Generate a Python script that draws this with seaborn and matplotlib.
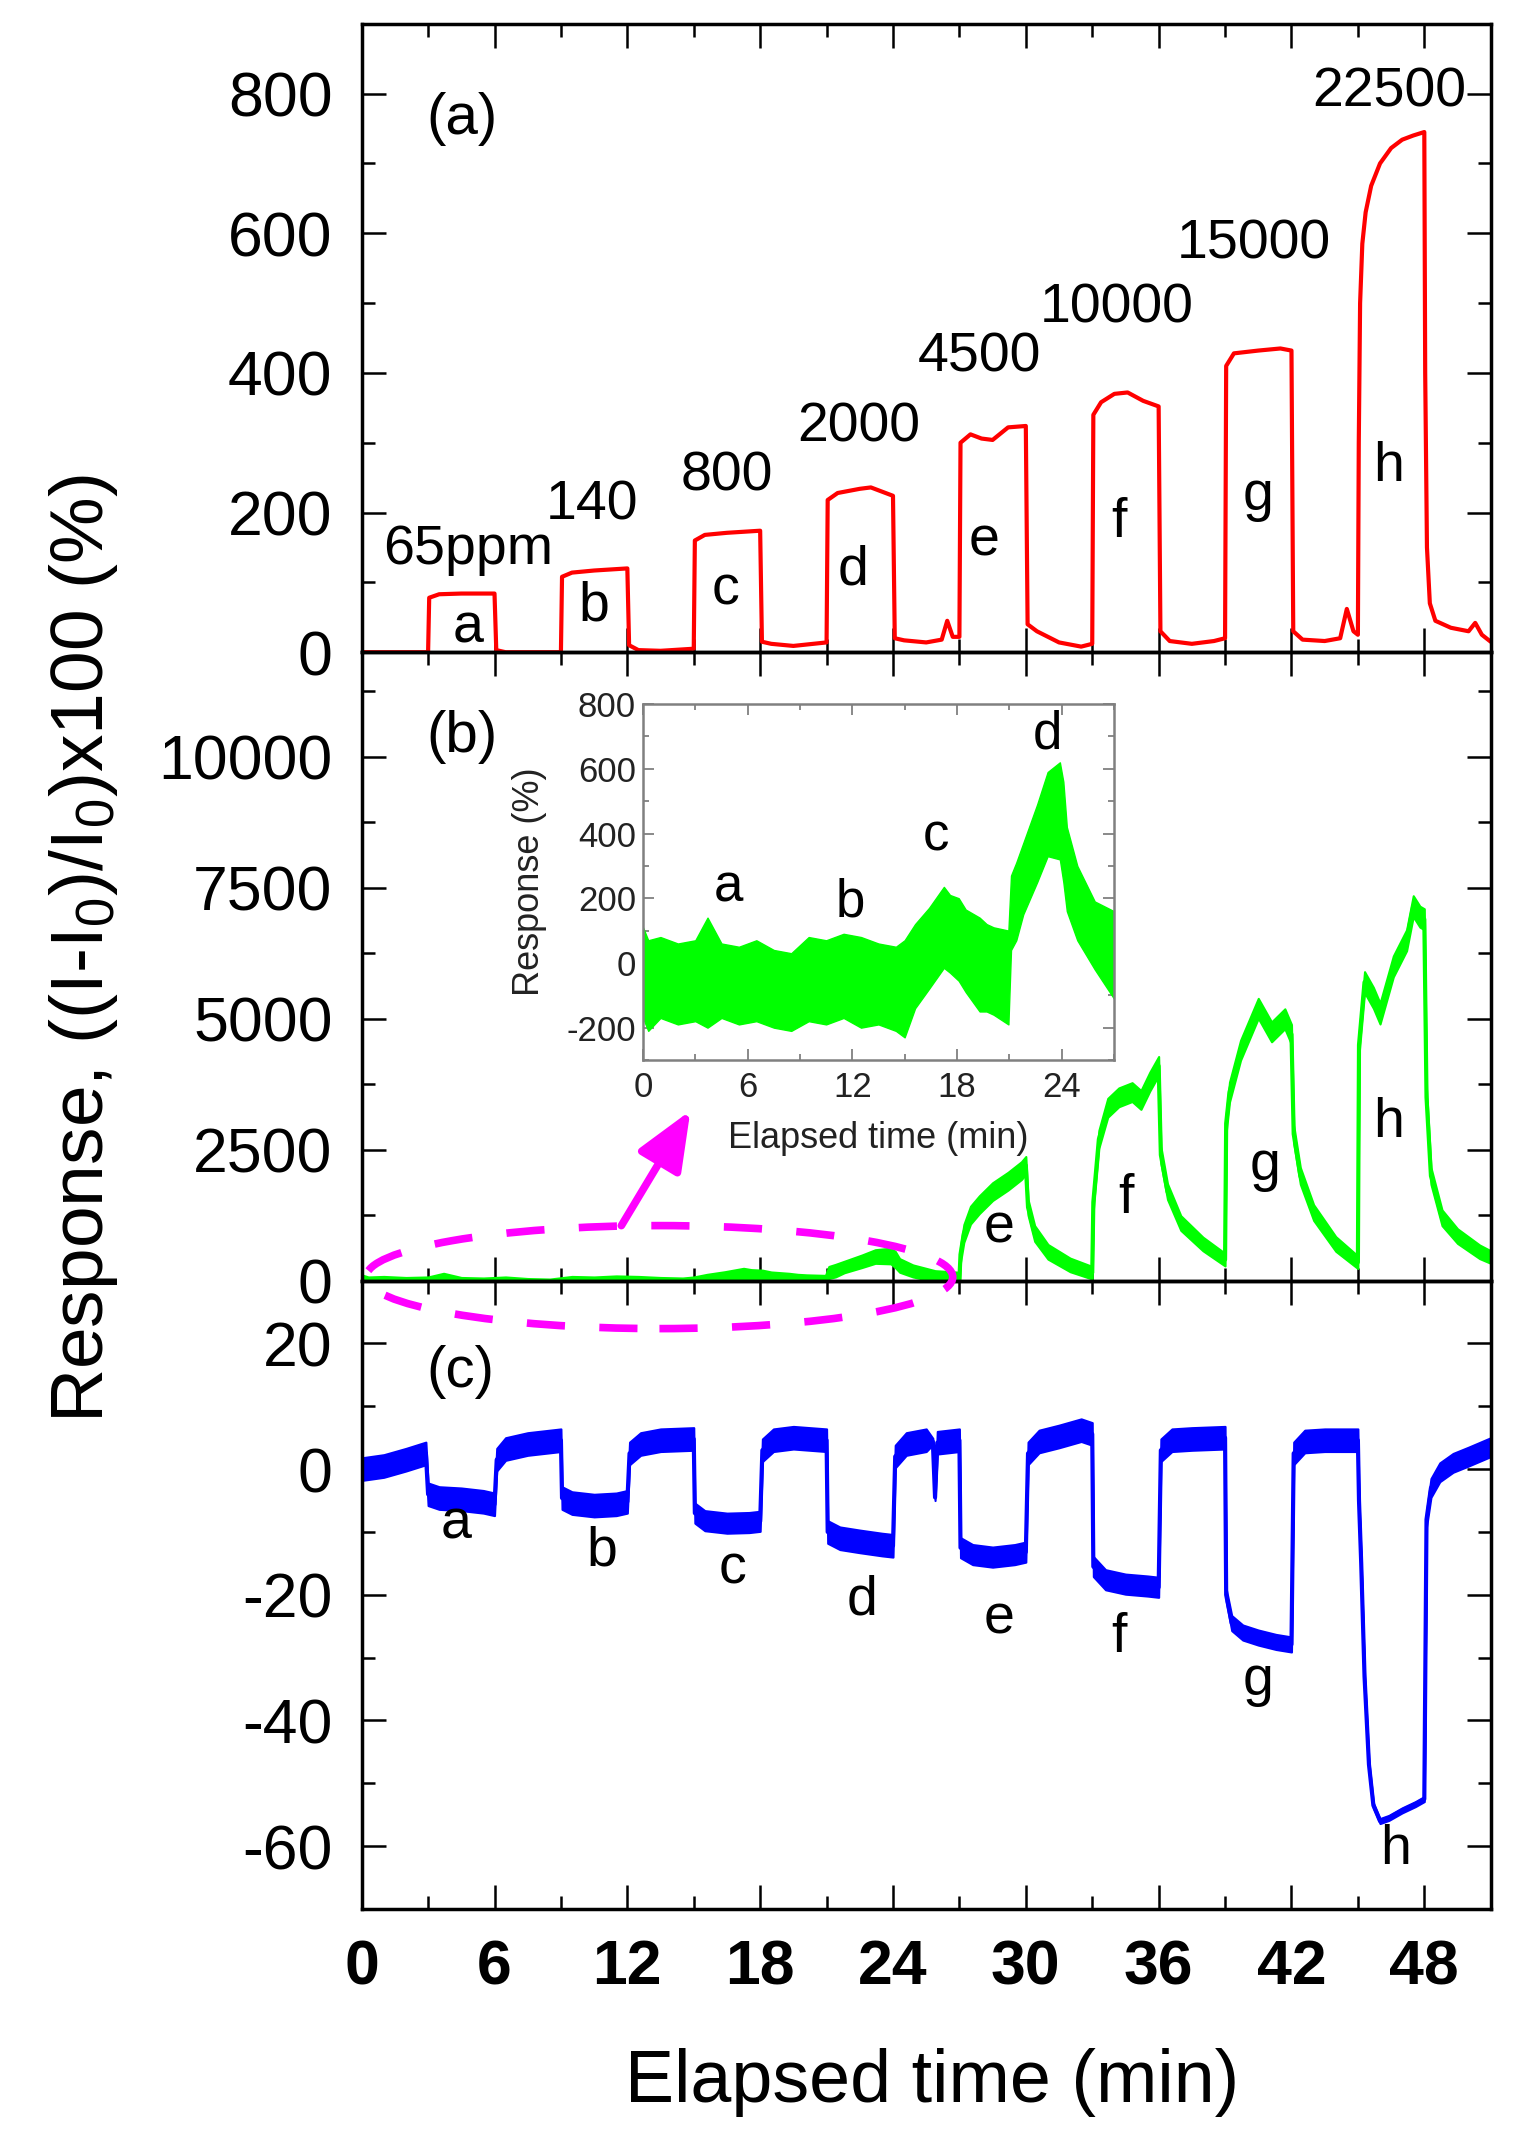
import numpy as np
import matplotlib
matplotlib.use('Agg')
import matplotlib.pyplot as plt
from matplotlib.patches import Ellipse
from matplotlib.ticker import MultipleLocator
import seaborn as sns

sns.set_theme(style='ticks', rc={'axes.edgecolor': 'black', 'text.color': 'black',
                                 'xtick.color': 'black', 'ytick.color': 'black',
                                 'axes.labelcolor': 'black'})
plt.rcParams['font.family'] = ['Liberation Sans', 'DejaVu Sans']
plt.rcParams['mathtext.fontset'] = 'custom'
plt.rcParams['mathtext.rm'] = 'Liberation Sans'
plt.rcParams['mathtext.it'] = 'Liberation Sans'
plt.rcParams['axes.unicode_minus'] = False

# ---------------- DATA ----------------
# (a) red response, %
red_t = [0.0, 3.0,
         3.05, 3.5, 4.5, 5.5, 6.0,
         6.08, 6.5, 8.0, 9.0,
         9.05, 9.5, 10.5, 11.5, 12.0,
         12.08, 12.5, 13.5, 15.0,
         15.05, 15.5, 16.5, 17.5, 18.0,
         18.08, 18.5, 19.5, 21.0,
         21.05, 21.5, 22.5, 23.0, 24.0,
         24.08, 24.5, 25.5, 26.2, 26.45, 26.7, 27.0,
         27.05, 27.5, 28.0, 28.5, 29.2, 30.0,
         30.08, 30.5, 31.5, 32.5, 33.0,
         33.05, 33.4, 34.0, 34.6, 35.3, 36.0,
         36.08, 36.5, 37.5, 38.5, 39.0,
         39.05, 39.4, 40.5, 41.5, 42.0,
         42.08, 42.5, 43.5, 44.2, 44.5, 44.8, 45.0,
         45.04, 45.1, 45.2, 45.35, 45.6, 46.0, 46.5, 47.0, 47.5, 48.0,
         48.04, 48.12, 48.25, 48.5, 49.2, 50.0, 50.3, 50.6, 51.0]
red_v = [0, 0,
         78, 83, 84, 84, 84,
         3, 0, 0, 0,
         108, 114, 117, 119, 120,
         10, 3, 2, 5,
         160, 168, 171, 173, 174,
         15, 12, 9, 14,
         218, 228, 234, 236, 224,
         20, 17, 14, 18, 45, 22, 22,
         300, 312, 306, 304, 322, 324,
         40, 30, 14, 8, 12,
         340, 358, 370, 372, 360, 352,
         30, 16, 12, 16, 20,
         410, 428, 432, 435, 432,
         30, 18, 16, 20, 62, 30, 25,
         300, 500, 585, 630, 668, 700, 722, 734, 740, 745,
         400, 150, 70, 45, 35, 30, 42, 25, 15]

# (b) green response, first 27 min as noise envelope (also shown in the inset)
inset_t = [0.0, 0.3, 1.0, 2.0, 3.0, 3.7, 4.5, 5.5, 6.5, 7.5, 8.5, 9.5, 10.5,
           11.5, 12.5, 13.5, 14.5, 15.0, 15.6, 16.4, 17.25, 17.6, 18.1, 18.5,
           19.3, 19.7, 20.1, 20.95, 21.1, 21.4, 21.8, 22.6, 23.2, 23.9, 24.1,
           24.3, 24.9, 25.9, 27.0]
inset_hi = [110, 70, 80, 60, 70, 140, 60, 50, 70, 40, 30, 80, 70,
            90, 80, 60, 50, 70, 120, 170, 235, 210, 200, 165,
            140, 120, 110, 100, 270, 310, 370, 490, 590, 620, 560,
            420, 300, 190, 160]
inset_lo = [-170, -210, -170, -190, -180, -200, -170, -190, -180, -200, -210, -180, -190,
            -170, -200, -190, -210, -230, -140, -80, -15, -30, -55, -90,
            -150, -150, -160, -190, 40, 70, 150, 250, 330, 320, 250,
            160, 70, -20, -110]

# (b) green response after 27 min: mid line and half band width
green_t = [27.05, 27.2, 27.5, 27.9, 28.5, 29.2, 29.8, 30.0,
           30.1, 30.4, 31.0, 32.0, 33.0,
           33.05, 33.3, 33.7, 34.2, 34.8, 35.2, 35.6, 36.0,
           36.1, 36.4, 37.0, 38.0, 39.0,
           39.05, 39.2, 39.7, 40.1, 40.5, 41.1, 41.7, 42.0,
           42.1, 42.4, 43.0, 44.0, 45.0,
           45.05, 45.3, 45.7, 46.0, 46.6, 47.2, 47.5, 47.8, 48.0,
           48.1, 48.3, 48.8, 49.5, 50.5, 51.0]
green_mid = [500, 900, 1250, 1450, 1700, 1900, 2100, 2200,
             1400, 900, 550, 300, 150,
             1500, 2700, 3300, 3500, 3600, 3450, 3800, 4100,
             2400, 1700, 1100, 700, 400,
             3000, 3600, 4400, 4800, 5200, 4750, 5000, 4700,
             2800, 2000, 1300, 700, 350,
             4500, 5700, 5400, 5100, 6000, 6500, 7150, 6950, 6900,
             3500, 2000, 1200, 850, 550, 450]
green_spread = [150, 170, 170, 170, 170, 170, 170, 170,
                150, 150, 140, 130, 120,
                150, 170, 180, 180, 180, 180, 180, 180,
                160, 150, 140, 130, 120,
                170, 190, 190, 190, 190, 190, 190, 190,
                170, 160, 150, 140, 120,
                190, 200, 200, 200, 200, 200, 200, 200, 200,
                170, 160, 150, 140, 130, 120]

# (c) blue response, %: mid line and half band width
blue_t = [0.0, 1.0, 2.0, 2.9,
          3.0, 3.5, 4.5, 5.5, 6.0,
          6.1, 6.5, 7.5, 9.0,
          9.05, 9.5, 10.5, 11.5, 12.0,
          12.1, 12.6, 13.5, 15.0,
          15.05, 15.5, 16.5, 17.5, 18.0,
          18.1, 18.6, 19.5, 21.0,
          21.05, 21.6, 22.5, 23.5, 24.0,
          24.1, 24.6, 25.5, 25.8, 25.9, 26.0, 27.0,
          27.05, 27.6, 28.5, 29.5, 30.0,
          30.1, 30.6, 31.5, 32.5, 33.0,
          33.05, 33.6, 34.5, 35.5, 36.0,
          36.1, 36.6, 37.5, 39.0,
          39.05, 39.3, 39.8, 40.5, 41.3, 42.0,
          42.1, 42.6, 43.5, 45.0,
          45.05, 45.15, 45.3, 45.5, 45.7, 46.0, 46.4, 47.0, 47.6, 48.0,
          48.1, 48.3, 48.7, 49.3, 50.0, 51.0]
blue_mid = [0.0, 0.5, 1.5, 2.5,
            -4.0, -4.6, -4.8, -5.2, -5.6,
            1.5, 3.2, 4.0, 4.6,
            -4.6, -5.4, -5.8, -5.6, -5.2,
            2.5, 4.0, 4.6, 4.8,
            -7.0, -8.2, -8.6, -8.5, -8.3,
            3.0, 4.6, 5.0, 4.6,
            -10.0, -11.0, -11.5, -12.0, -12.2,
            2.0, 4.0, 4.6, 4.4, -4.5, 4.2, 4.6,
            -12.5, -13.6, -14.0, -13.6, -13.2,
            2.5, 4.4, 5.2, 6.2, 5.6,
            -15.5, -17.6, -18.3, -18.6, -18.8,
            3.0, 4.6, 4.8, 5.0,
            -20.0, -24.5, -26.0, -26.8, -27.5, -27.9,
            2.5, 4.4, 4.6, 4.6,
            -5.0, -15.0, -33.0, -47.0, -53.5, -56.0, -55.5, -54.3, -53.3, -52.5,
            -8.0, -3.0, -0.5, 1.0, 2.0, 3.5]
blue_spread = [1.8, 1.8, 1.8, 1.8,
               1.8, 1.8, 1.8, 1.8, 1.8,
               1.8, 1.8, 1.8, 1.8,
               1.8, 1.8, 1.8, 1.8, 1.8,
               1.8, 1.8, 1.8, 1.8,
               1.6, 1.6, 1.6, 1.6, 1.6,
               1.8, 1.8, 1.8, 1.8,
               1.8, 1.8, 1.8, 1.8, 1.8,
               1.8, 1.8, 1.8, 0.5, 0.5, 1.8, 1.8,
               1.6, 1.6, 1.6, 1.6, 1.6,
               1.8, 1.8, 1.8, 1.8, 1.8,
               1.6, 1.6, 1.6, 1.6, 1.6,
               1.8, 1.8, 1.8, 1.8,
               1.0, 1.2, 1.2, 1.2, 1.2, 1.2,
               1.8, 1.8, 1.8, 1.8,
               0.4, 0.4, 0.4, 0.4, 0.4, 0.4, 0.4, 0.4, 0.4, 0.4,
               1.2, 1.5, 1.5, 1.5, 1.5, 1.5]

time_ticks = [0, 6, 12, 18, 24, 30, 36, 42, 48]
inset_time_ticks = [0, 6, 12, 18, 24]
pulse_letters = ['a', 'b', 'c', 'd', 'e', 'f', 'g', 'h']
conc_labels = ['65ppm', '140', '800', '2000', '4500', '10000', '15000', '22500']

# label positions (x in min, y in data units of each panel)
conc_x = [4.8, 10.4, 16.5, 22.45, 27.9, 34.1, 40.3, 46.4]
conc_y = [126, 190, 232, 302, 402, 472, 564, 781]
a_let_x = [4.8, 10.5, 16.45, 22.2, 28.1, 34.2, 40.5, 46.4]
a_let_y = [14, 46, 68, 97, 139, 165, 203, 245]
b_let_x = [28.8, 34.5, 40.8, 46.4]
b_let_y = [730, 1285, 1928, 2734]
c_let_x = [4.25, 10.85, 16.77, 22.6, 28.8, 34.2, 40.5, 46.7]
c_let_y = [-11.1, -15.4, -18.2, -23.1, -26.1, -29.1, -36.0, -62.9]
in_let_x = [4.9, 11.9, 16.8, 23.2]
in_let_y = [191, 145, 348, 662]

# ---------------- FIGURE ----------------
fig = plt.figure(figsize=(15.28, 21.44), dpi=100)
fig.patch.set_facecolor('white')
L, W, H = 0.2367, 0.7389, 0.2931
ax_a = fig.add_axes([L, 0.1096 + 2 * H, W, H])
ax_b = fig.add_axes([L, 0.1096 + H, W, H])
ax_c = fig.add_axes([L, 0.1096, W, H])

RED, GREEN, BLUE, MAG = '#ff0000', '#00ff00', '#0000ff', '#ff00ff'

# (a)
sns.lineplot(x=red_t, y=red_v, ax=ax_a, color=RED, linewidth=3,
             estimator=None, sort=False, legend=False)

# (b)
g_t = np.concatenate([inset_t, green_t])
g_mid = np.array(green_mid)
g_sp = np.array(green_spread)
g_lo = np.concatenate([inset_lo, g_mid - g_sp])
g_hi = np.concatenate([inset_hi, g_mid + g_sp])
ax_b.fill_between(g_t, g_lo, g_hi, color=GREEN, lw=1.5)
sns.lineplot(x=g_t, y=(g_lo + g_hi) / 2, ax=ax_b, color=GREEN, linewidth=3,
             estimator=None, sort=False, legend=False)

# (c)
b_mid = np.array(blue_mid)
b_sp = np.array(blue_spread)
ax_c.fill_between(blue_t, b_mid - b_sp, b_mid + b_sp, color=BLUE, lw=1.5)
sns.lineplot(x=blue_t, y=b_mid, ax=ax_c, color=BLUE, linewidth=3,
             estimator=None, sort=False, legend=False)

# axes styling
ylims = [(0, 900), (0, 12000), (-70, 30)]
ymaj = [200, 2500, 20]
ymin = [100, 1250, 10]
for ax, yl, mj, mn in zip((ax_a, ax_b, ax_c), ylims, ymaj, ymin):
    ax.set_xlim(0, 51)
    ax.set_ylim(*yl)
    ax.set_xticks(time_ticks)
    ax.xaxis.set_minor_locator(MultipleLocator(3))
    ax.yaxis.set_major_locator(MultipleLocator(mj))
    ax.yaxis.set_minor_locator(MultipleLocator(mn))
    ax.tick_params(which='both', direction='in', top=True, right=True,
                   width=1.8, color='black')
    ax.tick_params(which='major', length=17, labelsize=45, pad=21)
    ax.tick_params(which='minor', length=9.5)
    ax.set_xlabel('')
    ax.set_ylabel('')
    for s in ax.spines.values():
        s.set_linewidth(2.5)
        s.set_color('black')
    ax.set_facecolor('none')
ax_a.tick_params(labelbottom=False)
ax_b.tick_params(labelbottom=False)
ax_c.set_xticklabels([str(t) for t in time_ticks], fontweight='bold', fontsize=45)

# annotations
ax_a.text(2.9, 764, '(a)', fontsize=42, ha='left', va='center')
ax_b.text(2.9, 10387, '(b)', fontsize=42, ha='left', va='center')
ax_c.text(2.9, 15.4, '(c)', fontsize=42, ha='left', va='center')
for s, x, y in zip(conc_labels, conc_x, conc_y):
    ax_a.text(x, y, s, fontsize=40, ha='center', va='baseline')
for s, x, y in zip(pulse_letters, a_let_x, a_let_y):
    ax_a.text(x, y, s, fontsize=40, ha='center', va='baseline')
for s, x, y in zip(pulse_letters[4:], b_let_x, b_let_y):
    ax_b.text(x, y, s, fontsize=40, ha='center', va='baseline')
for s, x, y in zip(pulse_letters, c_let_x, c_let_y):
    ax_c.text(x, y, s, fontsize=40, ha='center', va='baseline')

# magenta dashed ellipse + arrow
ell = Ellipse((13.45, 67), width=26.5, height=1967, transform=ax_b.transData,
              fill=False, edgecolor=MAG, lw=5.5, linestyle=(0, (5, 4.5)),
              clip_on=False, zorder=5)
fig.add_artist(ell)
ax_b.annotate('', xy=(14.85, 3246), xytext=(11.73, 1050),
              arrowprops=dict(arrowstyle='-|>,head_length=0.6,head_width=0.25',
                              color=MAG, lw=5.5, mutation_scale=60,
                              shrinkA=0, shrinkB=0))

# inset
ax_in = fig.add_axes([0.4208, 0.5056, 0.3082, 0.166])
ax_in.set_facecolor('white')
ax_in.fill_between(inset_t, inset_lo, inset_hi, color=GREEN, lw=1)
ax_in.set_xlim(0, 27)
ax_in.set_ylim(-300, 800)
ax_in.set_xticks(inset_time_ticks)
ax_in.xaxis.set_minor_locator(MultipleLocator(3))
ax_in.yaxis.set_major_locator(MultipleLocator(200))
ax_in.yaxis.set_minor_locator(MultipleLocator(100))
ax_in.tick_params(which='both', direction='in', top=True, right=True,
                  color='#808080', width=1.3, labelcolor='#222222')
ax_in.tick_params(which='major', length=8, labelsize=25, pad=8)
ax_in.tick_params(which='minor', length=4)
ax_in.tick_params(axis='y', which='major', pad=5)
for s in ax_in.spines.values():
    s.set_linewidth(1.8)
    s.set_color('#808080')
ax_in.set_xlabel('Elapsed time (min)', fontsize=26, labelpad=12, color='#222222')
ax_in.set_ylabel('Response (%)', fontsize=26, labelpad=14, color='#222222')
for s, x, y in zip(pulse_letters[:4], in_let_x, in_let_y):
    ax_in.text(x, y, s, fontsize=38, ha='center', va='baseline')

# shared labels
fig.text(0.0674, 0.5576, r'Response, ((I-I$_0$)/I$_0$)x100 (%)', fontsize=54,
         rotation=90, rotation_mode='anchor', ha='center', va='baseline')
fig.text(0.61, 0.0196, 'Elapsed time (min)', fontsize=53, ha='center', va='baseline')

fig.savefig('out.png', dpi=100, facecolor='white')
